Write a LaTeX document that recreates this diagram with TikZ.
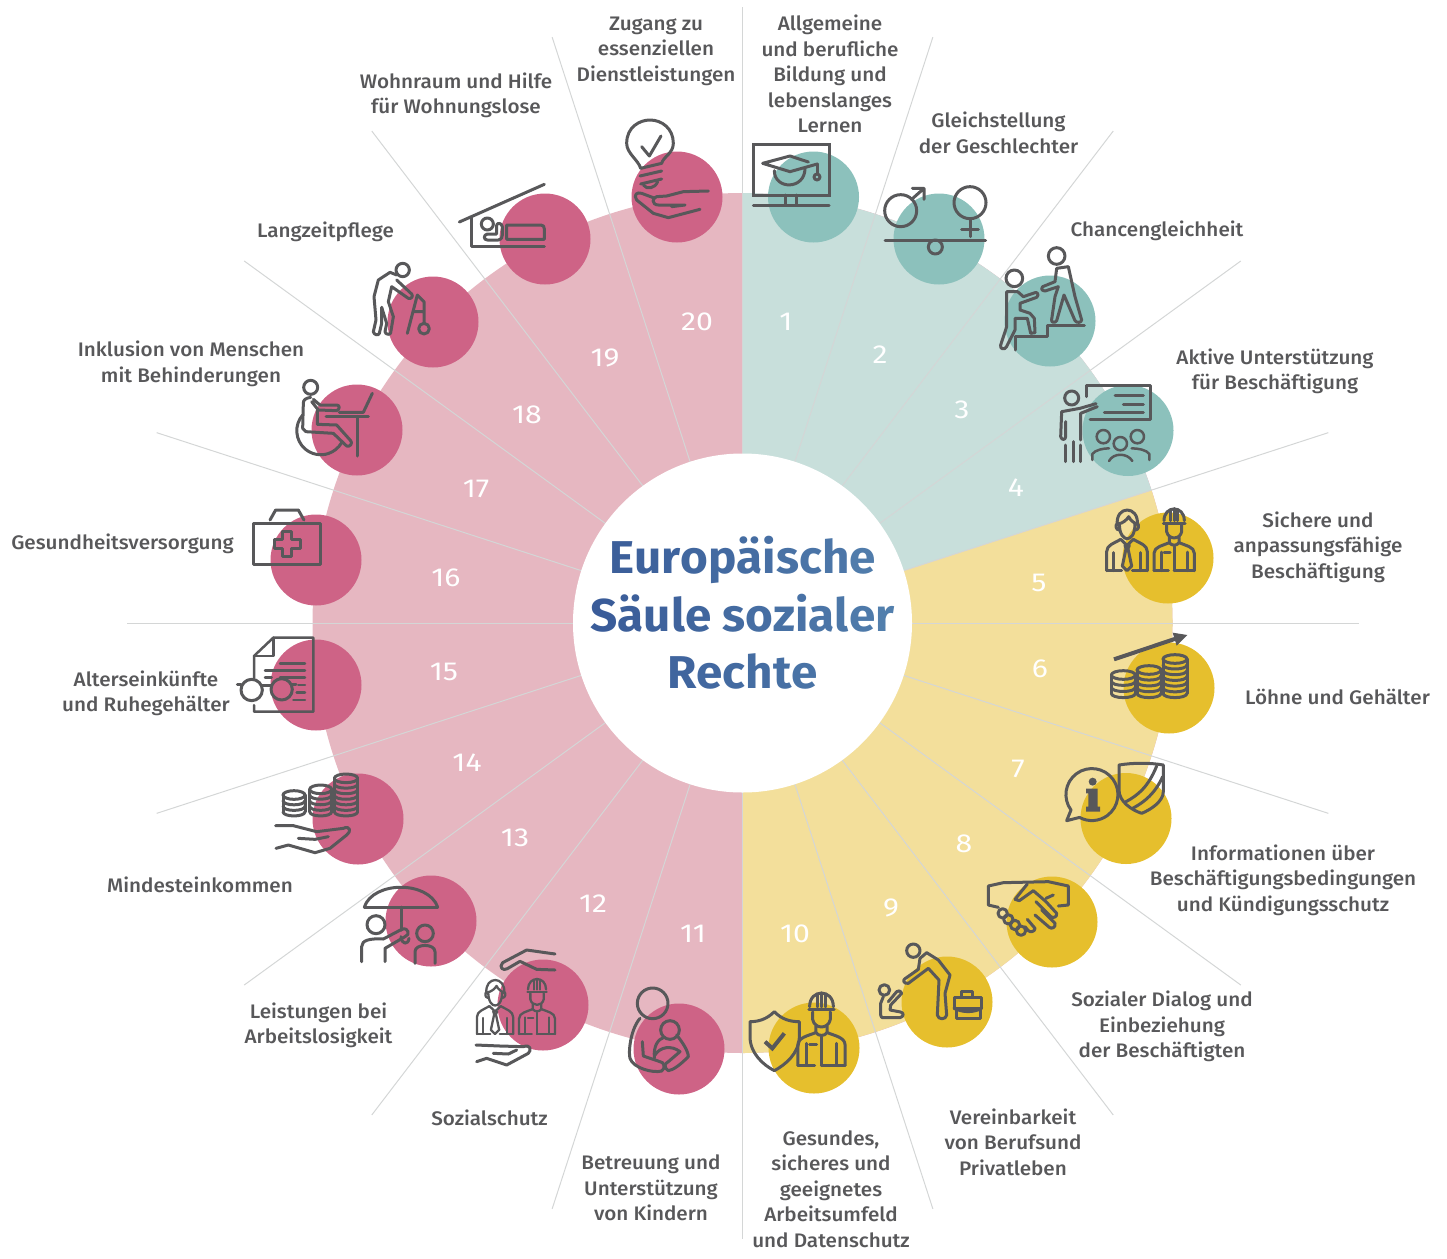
\documentclass[tikz,border=0pt]{standalone}
\usepackage{fontspec}
\setmainfont{Fira Sans}
\newfontfamily\labf{Fira Sans Medium}[FakeStretch=1.055]
\newfontfamily\numf{Fira Sans}[FakeStretch=1.16]
\newfontfamily\titf{Fira Sans}[BoldFont={Fira Sans Bold},FakeStretch=1.035]
\definecolor{icon}{HTML}{58585A}
\definecolor{labc}{HTML}{58585A}
\definecolor{teal1}{HTML}{8CC1BC}
\definecolor{teal2}{HTML}{C8DFDB}
\definecolor{yel1}{HTML}{E6BF2D}
\definecolor{yel2}{HTML}{F3DF9B}
\definecolor{pink1}{HTML}{CE6386}
\definecolor{pink2}{HTML}{E6B7C1}
\definecolor{spokec}{HTML}{D4D6D6}
\definecolor{titL}{HTML}{395B98}
\definecolor{titR}{HTML}{5381AE}
\newcommand\tc[2]{\textcolor{titR!#1!titL}{#2}}
\newcommand\coins[5]{%
 \draw[ic] (#1,#2) ellipse[x radius=#4,y radius=13];
 \foreach \k in {1,...,#5}{\pgfmathsetmacro\yy{#2+(#3-#2)*\k/#5}
   \draw[ic] (#1-#4,\yy) .. controls (#1-#4,\yy+17) and (#1+#4,\yy+17) .. (#1+#4,\yy);}
 \draw[ic] (#1-#4,#2)--(#1-#4,#3) (#1+#4,#2)--(#1+#4,#3);}
\newcommand\officeman{%
 \draw[ic] (352,135) .. controls (345,75) and (418,75) .. (412,135);
 \draw[ic] (352,130) .. controls (345,135) and (348,150) .. (357,150);
 \draw[ic] (412,130) .. controls (419,135) and (416,150) .. (406,150);
 \draw[ic] (358,130) .. controls (358,165) and (372,176) .. (381,176) .. controls (392,176) and (405,165) .. (405,130);
 \draw[ic] (356,132) .. controls (370,128) and (380,120) .. (386,110) .. controls (392,122) and (402,128) .. (409,132);
 \draw[ic] (320,272)--(320,215) .. controls (320,195) and (342,190) .. (362,178);
 \draw[ic] (442,272)--(442,215) .. controls (442,195) and (420,190) .. (400,178);
 \draw[ic] (320,272)--(365,272) (397,272)--(442,272);
 \draw[ic] (340,272)--(340,218) (422,272)--(422,218);
 \draw[ic] (362,178)--(381,196)--(400,178);
 \draw[ic] (375,196)--(388,196)--(384,206)--(395,258)--(381,272)--(367,258)--(378,206)--cycle;}
\newcommand\builder{%
 \draw[ic] (492,122) .. controls (492,75) and (553,75) .. (553,122);
 \draw[ic] (490,130)--(555,130);
 \draw[ic] (512,122)--(512,92) (522,122)--(522,86) (532,122)--(532,92);
 \draw[ic] (500,135)--(500,155) .. controls (505,180) and (540,180) .. (545,155)--(545,135);
 \draw[ic] (508,172)--(508,188) .. controls (515,198) and (530,198) .. (537,188)--(537,172);
 \draw[ic] (462,272)--(462,220) .. controls (462,200) and (490,196) .. (508,188);
 \draw[ic] (583,272)--(583,220) .. controls (583,200) and (555,196) .. (537,188);
 \draw[ic] (462,272)--(505,272) (522,272)--(583,272);
 \draw[ic] (522,200)--(522,272) (483,272)--(483,216) (562,272)--(562,216) (492,218)--(510,218);}
\tikzset{
 ic/.style={draw=icon,line width=3pt,line cap=round,line join=round},
 thin ic/.style={ic,line width=2.5pt},
 zm/.style 2 args={shift={(#1,#2)},x=.33333pt,y=-.33333pt},
 lab/.style={align=center,text=labc,inner sep=0pt,font=\labf\fontsize{19.6}{25.5}\selectfont},
 num/.style={text=white,inner sep=0pt,font=\numf\fontsize{26}{27}\selectfont},
 disc/.style={circle,minimum size=91pt,inner sep=0pt,fill=#1},
 spoke/.style={draw=spokec,line width=1pt},
 title/.style={align=center,inner sep=0pt,font=\titf\bfseries\fontsize{46}{57.5}\selectfont}
}
\begin{document}
\begin{tikzpicture}[x=1pt,y=-1pt]
\useasboundingbox (0,0) rectangle (1447,1258);
\coordinate (C) at (742.5,623);
% sectors
\fill[pink2] (C) circle[radius=430];
\fill[teal2] (C) -- ([shift={(-90:430)}]C) arc[start angle=-90,end angle=-18,radius=430] -- cycle;
\fill[yel2] (C) -- ([shift={(-18:430)}]C) arc[start angle=-18,end angle=90,radius=430] -- cycle;
\foreach \a/\b in {0/0,18/18,36/36,54/53,72/72,90/90,108/108,126/127,144/144,162/162,180/180,198/198,216/216,234/233,252/252,270/270,288/288,306/307,324/324,342/342}
 {\draw[spoke] ([shift={(\a:168)}]C) -- ([shift={(\b:616)}]C);}
\fill[white] (C) circle[radius=169.5];
% discs
\foreach \n/\x/\y/\c in {1/813.5/197/teal1,2/939/239/teal1,3/1050/321/teal1,4/1128/430.5/teal1,
 5/1168/558/yel1,6/1169/688/yel1,7/1126/818.5/yel1,8/1052/922/yel1,9/947/1002/yel1,10/814/1048/yel1,
 11/679/1049/pink1,12/543/1005/pink1,13/431/921/pink1,14/358/819/pink1,15/316/685/pink1,16/316/560/pink1,
 17/357/430/pink1,18/433/322/pink1,19/545/239/pink1,20/677/197/pink1}
 {\node[disc=\c] (c\n) at (\x,\y) {};}
% numbers
\foreach \n/\x/\y in {1/786/321.5,2/880/354.5,3/962/409.5,4/1016/487.5,5/1039/582.5,6/1040/668.5,7/1018/768.5,8/964/843.5,9/891/907.5,10/795/933.5,
 11/693/933.5,12/593/903.5,13/515/837.5,14/467/762.5,15/444/671.5,16/446/577.5,17/476/488.5,18/527/414.5,19/605/357.5,20/697/321.5}
 {\node[num] (n\n) at (\x,\y) {\n};}
% title
\node[title] (title) at (742.5,613) {%
 \tc{10}{E}\tc{18}{u}\tc{25}{r}\tc{32}{o}\tc{40}{p}\tc{48}{ä}\tc{53}{i}\tc{60}{s}\tc{66}{c}\tc{72}{h}\tc{87}{e}\\
 \tc{3}{S}\tc{10}{ä}\tc{18}{u}\tc{22}{l}\tc{28}{e} \tc{43}{s}\tc{50}{o}\tc{57}{z}\tc{62}{i}\tc{68}{a}\tc{74}{l}\tc{82}{e}\tc{95}{r}\\
 \tc{27}{R}\tc{35}{e}\tc{42}{c}\tc{48}{h}\tc{55}{t}\tc{63}{e}};
% labels
\node[lab] (t1) at (830,74) {Allgemeine\\und berufliche\\Bildung und\\lebenslanges\\Lernen};
\node[lab] (t2) at (998.5,133) {Gleichstellung\\der Geschlechter};
\node[lab] (t3) at (1157,231) {Chancengleichheit};
\node[lab] (t4) at (1275,371.5) {Aktive Unterstützung\\für Beschäftigung};
\node[lab] (t5) at (1318,547) {Sichere und\\anpassungsfähige\\Beschäftigung};
\node[lab] (t6) at (1337.5,697) {Löhne und Gehälter};
\node[lab] (t7) at (1283,880) {Informationen über\\Beschäftigungsbedingungen\\und Kündigungsschutz};
\node[lab] (t8) at (1162,1026.5) {Sozialer Dialog und\\Einbeziehung\\der Beschäftigten};
\node[lab] (t9) at (1013,1142) {Vereinbarkeit\\von Berufsund\\Privatleben};
\node[lab] (t10) at (831,1189) {Gesundes,\\sicheres und\\geeignetes\\Arbeitsumfeld\\und Datenschutz};
\node[lab] (t11) at (651,1188) {Betreuung und\\Unterstützung\\von Kindern};
\node[lab] (t12) at (489.5,1118) {Sozialschutz};
\node[lab] (t13) at (318.5,1025.5) {Leistungen bei\\Arbeitslosigkeit};
\node[lab] (t14) at (200,885) {Mindesteinkommen};
\node[lab] (t15) at (146,693.5) {Alterseinkünfte\\und Ruhegehälter};
\node[lab] (t16) at (122.5,544) {Gesundheitsversorgung};
\node[lab] (t17) at (191,364) {Inklusion von Menschen\\mit Behinderungen};
\node[lab] (t18) at (325.5,232) {Langzeitpflege};
\node[lab] (t19) at (456,95.5) {Wohnraum und Hilfe\\für Wohnungslose};
\node[lab] (t20) at (656,51) {Zugang zu\\essenziellen\\Dienstleistungen};
% icon 1
\begin{scope}[zm={740}{100}]
 \draw[ic,line join=miter] (40,132) rectangle (267,285);
 \draw[ic] (135,285)--(135,316) (170,285)--(170,316) (40,316)--(267,316);
 \draw[ic] (68,190)--(150,168)--(205,186) (232,192)--(150,215)--(68,190);
 \draw[ic] (232,192)--(232,222);
 \draw[ic] (231,231) circle[radius=9];
 \draw[ic] (103,212) .. controls (103,270) and (195,270) .. (195,205);
% icon 2
 \draw[ic] (482,332) circle[radius=48];
 \draw[ic] (515,298)--(552,265) (517,265)--(552,265)--(552,298);
 \draw[ic] (690,308) circle[radius=48];
 \draw[ic] (690,356)--(690,410) (665,388)--(715,388);
 \draw[ic] (435,421)--(737,421);
 \draw[ic] (586,441) circle[radius=21];
% icon 3
 \draw[ic] (823,535) circle[radius=25];
 \draw[ic] (950,468) circle[radius=25];
 \draw[ic] (833,575)--(800,575)--(800,680)--(782,735) .. controls (778,748) and (795,750) .. (799,741)--(825,690)--(825,655)--(862,655)--(872,700)--(885,698)--(883,655)--(870,640)--(840,630)--(840,610)--(890,592) .. controls (898,585) and (892,575) .. (885,578)--(850,590)--(833,575);
 \draw[ic] (950,505)--(985,500)--(1005,590)--(1025,660) .. controls (1025,668) and (1010,670) .. (1005,662)--(972,585)--(950,662) .. controls (945,670) and (932,668) .. (935,658)--(945,590)--(955,560)--(915,573) .. controls (902,572) and (903,562) .. (908,560)--(945,545)--(950,505);
 \draw[ic] (827,750)--(827,710)--(923,710)--(923,675)--(1033,675);
% icon 4
 \draw[ic] (1040,890)--(1040,855)--(1230,855)--(1230,957)--(1050,957);
 \draw[ic] (1125,886)--(1210,886) (1150,912)--(1210,912) (1093,938)--(1210,938);
 \draw[ic] (995,894) circle[radius=21];
 \draw[ic] (1068,911)--(1020,925)--(965,935)--(962,1010) .. controls (965,1022) and (977,1020) .. (977,1010)--(977,965);
 \draw[ic] (1072,920)--(1022,940)--(1022,1020);
 \draw[ic] (977,1035)--(977,1085) (1000,1025)--(1000,1085) (1022,1035)--(1022,1085);
 \draw[thin ic] (1090,1010) circle[radius=20] (1192,1010) circle[radius=20] (1141,1031) circle[radius=20];
 \draw[thin ic] (1107,1083) .. controls (1120,1058) and (1162,1058) .. (1177,1083);
 \draw[thin ic] (1057,1080)--(1057,1062) .. controls (1065,1050) and (1090,1045) .. (1107,1045);
 \draw[thin ic] (1228,1080)--(1228,1062) .. controls (1220,1050) and (1195,1045) .. (1175,1045);
\end{scope}
% icon 5-7
\begin{scope}[zm={1000}{480}]
 \officeman
 \builder
 \draw[icon,line width=4pt] (342,538)--(530,475);
 \fill[icon] (518,458)--(562,465)--(530,497)--cycle;
 \coins{370}{585}{640}{36}{3}
 \coins{447}{570}{640}{36}{4}
 \coins{525}{537}{640}{36}{6}
 \draw[ic] (213,990) arc[start angle=143.6,end angle=478.5,radius=78]--(200,1022)--cycle;
 \fill[icon] (278,905) circle[radius=12];
 \fill[icon] (258,926)--(293,926)--(293,980)--(300,980)--(300,995)--(258,995)--(258,980)--(265,980)--(265,940)--(258,940)--cycle;
 \draw[ic] (357,855) .. controls (400,848) and (450,848) .. (490,855)--(490,935) .. controls (490,965) and (450,990) .. (425,1000) .. controls (395,990) and (357,965) .. (357,930)--cycle;
 \draw[ic] (470,858) .. controls (445,920) and (415,945) .. (378,965);
 \draw[ic] (488,890) .. controls (465,940) and (435,965) .. (398,985);
\end{scope}
% icon 8-10
\begin{scope}[zm={740}{860}]
 \draw[ic] (775,142)--(745,135)--(745,78)--(790,68)--(925,65)--(985,78)--(985,135)--(955,138);
 \draw[ic] (825,118)--(862,72) (825,118)--(838,122)--(880,92)--(918,125)--(950,160) .. controls (952,172) and (938,175) .. (933,170)--(888,125);
 \draw[ic] (918,115)--(940,105);
 \draw[ic] (905,150)--(945,190) .. controls (948,202) and (935,208) .. (928,202)--(885,165);
 \draw[ic] (862,178)--(885,205) .. controls (885,215) and (870,218) .. (865,212)--(855,200);
 \foreach \p in {(788,160),(805,178),(825,195),(843,212)} \draw[ic] \p circle[radius=14];
 % icon 9
 \draw[ic] (520,272) circle[radius=20];
 \draw[ic] (540,295)--(560,278)--(595,300)--(630,345)--(615,400)--(620,465) .. controls (618,480) and (594,480) .. (592,465)--(597,360)--(565,325)--(505,370) .. controls (490,372) and (488,360) .. (495,356)--(535,328)--cycle;
 \draw[ic] (433,390) circle[radius=16];
 \draw[ic] (430,410)--(422,430)--(422,465) .. controls (424,475) and (430,474) .. (435,473)--(480,473) .. controls (492,470) and (492,458) .. (482,456)--(450,450)--(452,435)--(485,400) .. controls (480,390) and (475,392) .. (470,395)--(445,425);
 \draw[ic] (642,412) rectangle (725,445);
 \draw[ic] (642,445) .. controls (670,458) and (700,458) .. (725,445);
 \draw[ic] (648,445)--(648,475)--(722,475)--(722,445);
 \draw[ic] (665,412)--(665,395)--(698,395)--(698,412);
 % icon 10 shield
 \draw[ic] (103,455) .. controls (80,478) and (55,485) .. (30,485)--(30,530) .. controls (30,580) and (70,615) .. (103,632) .. controls (135,615) and (178,580) .. (178,530)--(178,485) .. controls (150,485) and (125,478) .. (103,455)--cycle;
 \draw[icon,line width=4pt] (75,545)--(97,565)--(133,520);
\end{scope}
\begin{scope}[shift={(617.7,959.2)},x=.39pt,y=-.39pt]
 \builder
\end{scope}
% icon 12 figures
\begin{scope}[shift={(382,953.3)},x=.2967pt,y=-.2967pt]
 \tikzset{ic/.append style={line width=2.3pt}}
 \officeman
 \builder
\end{scope}
\begin{scope}[zm={260}{760}]
 % icon 12 hands
 \draw[ic] (885,582)--(800,570)--(728,608) .. controls (715,622) and (730,634) .. (742,626)--(780,604)--(830,628)--(885,630);
 \draw[ic] (648,855)--(720,858)--(790,860) .. controls (812,852) and (815,870) .. (805,880)--(740,915)--(680,895)--(650,905);
 \draw[ic] (700,880)--(745,882)--(770,870);
 % icon 13
 \draw[ic] (313,441)--(533,441);
 \draw[ic] (313,441) .. controls (340,362) and (505,362) .. (533,441);
 \draw[ic] (423,441)--(423,510);
 \draw[ic] (348,494) circle[radius=27];
 \draw[ic] (305,605)--(305,560) .. controls (305,540) and (330,535) .. (370,537)--(425,508) .. controls (445,500) and (452,525) .. (435,530)--(375,565)--(375,605);
 \draw[ic] (423,530) .. controls (425,555) and (445,555) .. (447,535);
 \draw[ic] (495,520) circle[radius=25];
 \draw[ic] (465,610)--(465,575) .. controls (465,550) and (525,550) .. (525,575)--(525,610);
 % icon 14
 \coins{102}{105}{155}{33}{3}
 \coins{182}{88}{155}{33}{4}
 \coins{258}{55}{155}{35}{6}
 \draw[ic] (47,197)--(100,197)--(170,215)--(250,205) .. controls (270,195) and (275,215) .. (260,225)--(210,265)--(165,278)--(85,255)--(48,265);
 \draw[ic] (115,235)--(165,238)--(205,230);
 % icon 11
 \draw[ic] (1178,730) circle[radius=46];
 \draw[ic] (1230,810) circle[radius=28];
 \draw[ic] (1140,775) .. controls (1110,810) and (1105,880) .. (1110,895) .. controls (1120,925) and (1180,940) .. (1205,933) .. controls (1218,925) and (1212,905) .. (1200,905)--(1150,888)--(1147,845);
 \draw[ic] (1183,895) .. controls (1180,855) and (1195,838) .. (1212,832);
 \draw[ic] (1250,825) .. controls (1270,850) and (1285,875) .. (1285,890) .. controls (1260,915) and (1240,930) .. (1225,932) .. controls (1212,925) and (1212,910) .. (1225,905)--(1260,875) .. controls (1235,855) and (1200,860) .. (1185,885);
\end{scope}
\begin{scope}[zm={230}{370}]
 % icon 15
 \draw[thin ic] (72,925)--(72,858)--(130,803)--(250,803)--(250,1025)--(72,1025)--(72,1005);
 \draw[thin ic] (72,858)--(130,858)--(130,803);
 \draw[thin ic] (150,881)--(225,881) (105,902)--(225,902) (105,923)--(125,923) (150,923)--(225,923) (205,945)--(225,945) (200,967)--(225,967) (190,990)--(225,990);
 \draw[ic] (65,960) circle[radius=32] (155,958) circle[radius=32];
 \draw[ic] (97,945)--(123,945) (22,942)--(33,942) (187,942)--(198,942);
 % icon 16
 \draw[ic] (70,460) rectangle (272,584);
 \draw[ic] (120,450)--(137,420)--(205,420)--(222,450);
 \draw[ic] (157,484)--(185,484)--(185,507)--(210,507)--(210,535)--(185,535)--(185,560)--(157,560)--(157,535)--(132,535)--(132,507)--(157,507)--cycle;
 % icon 17
 \draw[ic] (242,52) circle[radius=21];
 \draw[ic] (218,135) arc[start angle=221,end angle=31,radius=72];
 \draw[ic] (242,82) .. controls (225,85) and (220,90) .. (220,100)--(218,175)--(228,185)--(310,190)--(350,228) .. controls (362,232) and (368,218) .. (362,212)--(320,165)--(262,163)--(262,120);
 \draw[ic] (245,95)--(265,120)--(320,122) .. controls (330,118) and (330,105) .. (320,105)--(270,105)--(250,88);
 \draw[ic] (288,139)--(415,139) (382,139)--(382,258);
 \draw[ic] (328,127)--(400,127)--(427,70);
\end{scope}
\begin{scope}[zm={360}{110}]
 % icon 18
 \draw[ic] (128,480) circle[radius=20];
 \draw[ic] (110,495)--(90,487)--(55,510)--(42,560)--(48,630)--(40,665) .. controls (42,675) and (55,678) .. (58,670)--(65,640)--(65,592);
 \draw[ic] (65,592)--(80,640)--(75,665) .. controls (76,675) and (92,675) .. (92,668)--(100,620)--(85,575)--(95,530)--(145,565) .. controls (155,568) and (160,558) .. (155,552)--(110,510);
 \draw[ic] (142,670)--(172,555)--(192,575)--(192,640) (160,605)--(192,605);
 \draw[ic] (192,656) circle[radius=16];
 % icon 19
 \draw[ic] (298,336)--(553,223);
 \draw[ic] (335,320)--(335,408)--(553,408);
 \draw[ic] (440,388)--(440,345)--(543,345) .. controls (550,345) and (553,350) .. (553,357)--(553,388)--cycle;
 \draw[ic] (382,342) circle[radius=18];
 \draw[ic] (410,345)--(410,372)--(382,372) .. controls (370,374) and (370,390) .. (382,390)--(415,390) .. controls (425,388) and (427,380) .. (427,375)--(427,350) .. controls (425,338) and (412,338) .. (410,345);
 % icon 20
 \draw[ic] (842,175) .. controls (835,150) and (800,130) .. (800,100) .. controls (800,50) and (840,30) .. (870,30) .. controls (905,30) and (940,55) .. (940,100) .. controls (940,130) and (910,140) .. (905,160)--cycle;
 \draw[ic] (845,110)--(868,138)--(903,78);
 \draw[ic] (840,198)--(905,183) (842,222)--(905,207);
 \draw[ic] (850,225) .. controls (860,240) and (885,235) .. (893,215);
 \draw[ic] (1045,243)--(970,245)--(920,258)--(890,260) .. controls (875,262) and (875,285) .. (895,285)--(975,285)--(935,290);
 \draw[ic] (1020,298)--(925,323)--(880,310)--(830,270) .. controls (820,255) and (830,245) .. (845,250)--(885,265);
\end{scope}
\end{tikzpicture}
\end{document}
